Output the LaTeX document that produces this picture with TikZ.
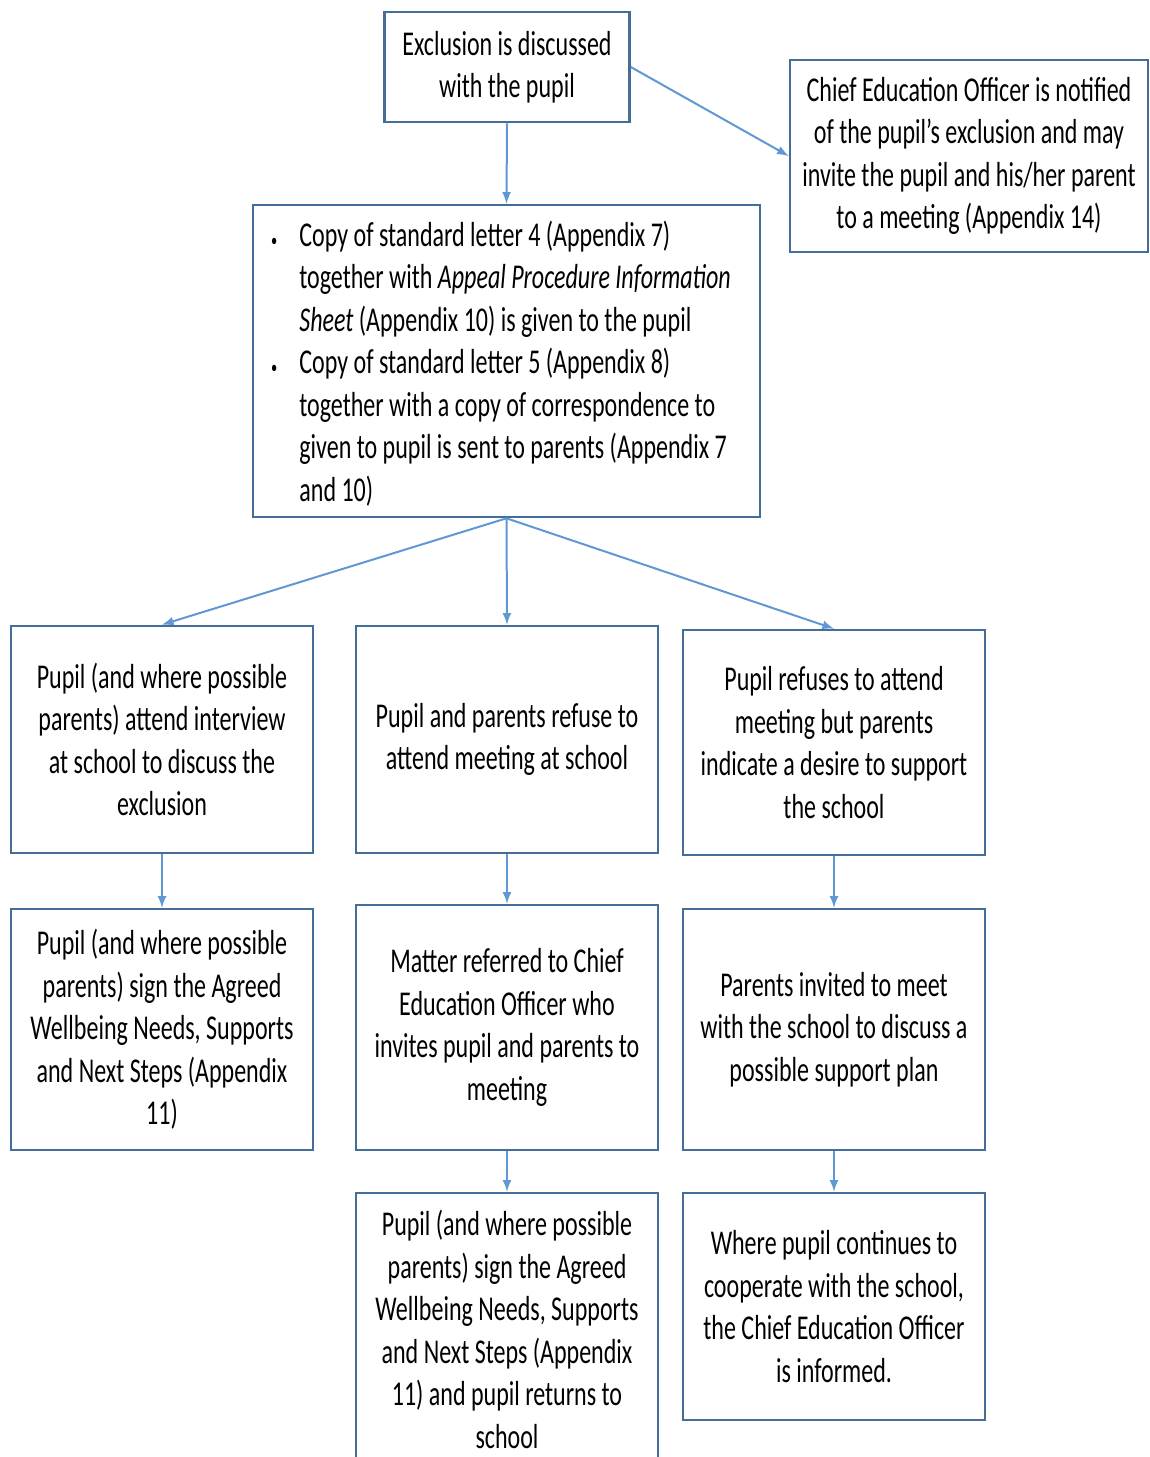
\documentclass[tikz,border=0pt]{standalone}
\usepackage{fontspec}
\setmainfont[FakeStretch=0.69]{Carlito}
\usetikzlibrary{positioning,arrows}
\definecolor{boxL}{RGB}{68,110,152}
\definecolor{arr}{RGB}{96,152,212}
\newcommand{\blt}{\llap{{\fontsize{9}{9}\selectfont\textbullet}\hspace{11pt}}}
\begin{document}
\begin{tikzpicture}[
  x=0.5pt, y=-0.5pt,
  font=\fontsize{17.4}{21.25}\selectfont,
  box/.style={draw=boxL, line width=1.3pt, fill=white, align=center, inner sep=2pt, minimum width=151pt},
  flow/.style={->, >=latex, line width=1pt, draw=arr, fill=arr},
]
\useasboundingbox[fill=white] (0,0) rectangle (1150,1457);

% ---- top of the chart ----
\node[box, minimum width=122.5pt, minimum height=55pt] (talk) at (507,67) {Exclusion is discussed\\with the pupil};
\node[box, minimum width=179pt, minimum height=96pt] (ceo) at (969,156) {Chief Education Officer is notified\\of the pupil’s exclusion and may\\invite the pupil and his/her parent\\to a meeting (Appendix 14)};
\node[box, minimum width=253.5pt, minimum height=156pt] (letters) at (506.5,361) {};
\node[align=left, anchor=west, inner sep=0pt] (lettext) at (299,363.5)
  {\blt Copy of standard letter 4 (Appendix 7)\\
   together with \textit{Appeal Procedure Information}\\
   \textit{Sheet} (Appendix 10) is given to the pupil\\
   \blt Copy of standard letter 5 (Appendix 8)\\
   together with a copy of correspondence to\\
   given to pupil is sent to parents (Appendix 7\\
   and 10)};

% ---- second row ----
\node[box, minimum height=113.5pt] (attend) at (162,739.5) {Pupil (and where possible\\parents) attend interview\\at school to discuss the\\exclusion};
\node[box, minimum height=113.5pt] (refuse) at (507,739.5) {Pupil and parents refuse to\\attend meeting at school};
\node[box, minimum height=112.5pt] (support) at (834,742.5) {Pupil refuses to attend\\meeting but parents\\indicate a desire to support\\the school};

% ---- third row ----
\node[box, minimum height=120.5pt] (signA) at (162,1029.5) {Pupil (and where possible\\parents) sign the Agreed\\Wellbeing Needs, Supports\\and Next Steps (Appendix\\11)};
\node[box, minimum height=122.5pt] (refer) at (507,1027.5) {Matter referred to Chief\\Education Officer who\\invites pupil and parents to\\meeting};
\node[box, minimum height=120.5pt] (invite) at (834,1029.5) {Parents invited to meet\\with the school to discuss a\\possible support plan};

% ---- last row ----
\node[box, minimum height=136.5pt] (signB) at (507,1329.5) {Pupil (and where possible\\parents) sign the Agreed\\Wellbeing Needs, Supports\\and Next Steps (Appendix\\11) and pupil returns to\\school};
\node[box, minimum height=113.5pt] (inform) at (834,1306.5) {Where pupil continues to\\cooperate with the school,\\the Chief Education Officer\\is informed.};

% ---- arrows ----
\draw[flow] (talk.south) -- (letters.north);
\draw[flow] (talk.east) -- (ceo.west);
\draw[flow] (letters.south) -- (attend.north);
\draw[flow] (letters.south) -- (refuse.north);
\draw[flow] (letters.south) -- (support.north);
\draw[flow] (attend) -- (signA);
\draw[flow] (refuse) -- (refer);
\draw[flow] (support) -- (invite);
\draw[flow] (refer) -- (signB);
\draw[flow] (invite) -- (inform);

\end{tikzpicture}
\end{document}
